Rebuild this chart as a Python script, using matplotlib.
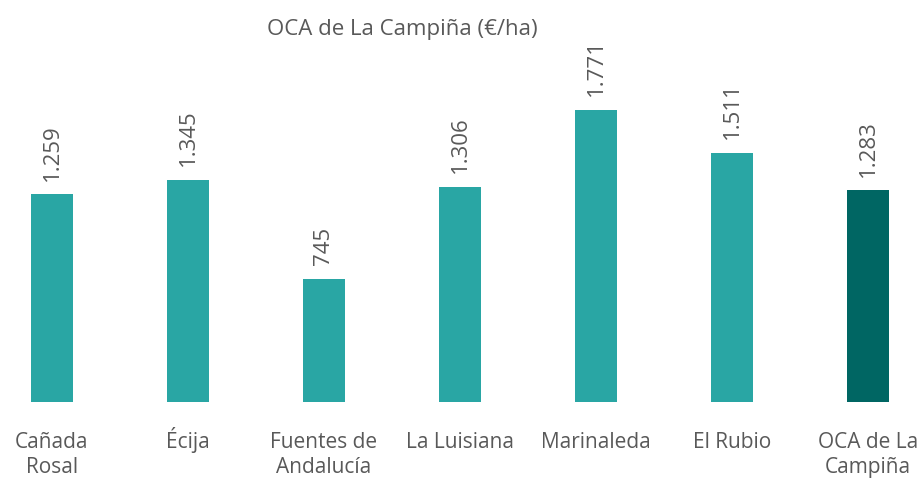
import matplotlib
matplotlib.use("Agg")
import matplotlib.pyplot as plt

categories = ["Cañada\nRosal", "Écija", "Fuentes de\nAndalucía", "La Luisiana",
              "Marinaleda", "El Rubio", "OCA de La\nCampiña"]
values = [1259, 1345, 745, 1306, 1771, 1511, 1283]
colors = ["#29A6A4"] * 6 + ["#006663"]
title = "OCA de La Campiña (€/ha)"

FONT = ["Open Sans", "DejaVu Sans"]
GREY = "#595959"
plt.rcParams["font.family"] = FONT

fig = plt.figure(figsize=(9.23, 4.80), dpi=100)
ax = fig.add_axes([0, 0.1625, 1, 0.8375])
x = list(range(len(values)))
ax.bar(x, values, width=0.31, color=colors)
ax.set_xlim(-0.382, 6.404)
ax.set_ylim(0, 2438)

for xi, v in zip(x, values):
    label = f"{v:,}".replace(",", ".")
    ax.annotate(label, (xi, v), xytext=(0, 10), textcoords="offset points",
                rotation=90, ha="center", va="bottom", fontsize=16, color=GREY)

# category labels, one text per line so every first line shares a baseline
line_y = [-0.1144, -0.1766]
for xi, cat in zip(x, categories):
    for k, line in enumerate(cat.split("\n")):
        ax.text(xi, line_y[k], line, transform=ax.get_xaxis_transform(),
                ha="center", va="baseline", fontsize=15, color=GREY)

ax.set_xticks([])
ax.set_yticks([])
for s in ax.spines.values():
    s.set_visible(False)

fig.text(402 / 923, 1 - 30 / 480, title, ha="center", va="center",
         fontsize=16, color=GREY)

fig.savefig("out.png", dpi=100)
plt.close(fig)
